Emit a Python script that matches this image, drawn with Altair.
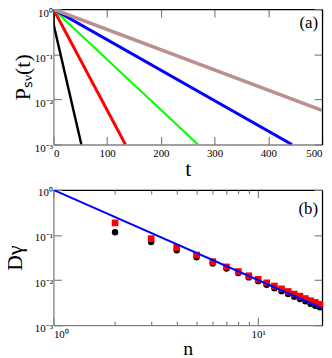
import altair as alt
import pandas as pd

FONT = "Liberation Serif"

# ---------------- panel (a) data ----------------
t_black = [0, 0.5, 52]
p_black = [1.0, 0.45, 0.001]
t_red = [0, 134]
p_red = [1.0, 0.001]
t_green = [0, 269]
p_green = [1.0, 0.001]
t_blue = [0, 444]
p_blue = [1.0, 0.001]
t_brown = [0, 500]
p_brown = [1.0, 0.0057]
t_ticks = [0, 100, 200, 300, 400, 500]
p_ticks = [1, 0.1, 0.01, 0.001]

# ---------------- panel (b) data ----------------
n_vals = [2, 3, 4, 5, 6, 7, 8, 9, 10, 11, 12, 13, 14, 15, 16, 17, 18, 19, 20]
d_black = [0.115, 0.070, 0.046, 0.032, 0.0235, 0.018, 0.0143, 0.0115, 0.0095,
           0.0079, 0.0066, 0.0057, 0.0049, 0.0043, 0.0038, 0.0034, 0.0030, 0.0027, 0.0025]
d_red = [0.186, 0.083, 0.053, 0.036, 0.0257, 0.0196, 0.0155, 0.0125, 0.0104,
         0.0087, 0.0074, 0.0064, 0.0056, 0.0049, 0.0044, 0.0039, 0.0035, 0.0032, 0.0029]
n_line = [1, 20.5]
d_line = [1.0, 0.00238]
n_major = [1, 10]
n_minor = [2, 3, 4, 5, 6, 7, 8, 9]
d_ticks = [1, 0.1, 0.01, 0.001]

W, H = 272, 137
GRAY = "#808080"

sup_expr = ("round(log(datum.value)/LN10) == 0 ? '10⁰' : "
            "round(log(datum.value)/LN10) == 1 ? '10¹' : "
            "round(log(datum.value)/LN10) == -1 ? '10⁻¹' : "
            "round(log(datum.value)/LN10) == -2 ? '10⁻²' : '10⁻³'")


def axis(orient, values, size=8, labels=True, title=None, label_expr=None,
         domain_color=GRAY, domain=True, title_size=22, title_pad=4, label_gap=3,
         label_offset=0):
    kw = dict(orient=orient, values=values, tickSize={"expr": str(-size)},
              tickColor=GRAY, tickWidth=1.2, grid=False, labels=labels,
              domain=domain, domainColor=domain_color, domainWidth=1.3,
              labelFont=FONT, labelFontSize=11, labelColor="black",
              labelPadding=size + label_gap, titleFont=FONT, titleFontSize=title_size,
              titleFontWeight="normal", titleColor="black", titlePadding=title_pad)
    if label_offset:
        kw["labelOffset"] = label_offset
    if label_expr:
        kw["labelExpr"] = label_expr
    if title is None:
        kw["title"] = None
    else:
        kw["title"] = title
    return alt.Axis(**kw)


# ---------------- panel (a) ----------------
xs_a = alt.Scale(domain=[0, 500], nice=False)
ys_a = alt.Scale(type="log", domain=[0.001, 1], nice=False)


def series(t, p, color, width, xaxis=None, yaxis=None):
    df = pd.DataFrame({"t": t, "p": p})
    return alt.Chart(df).mark_line(color=color, strokeWidth=width, clip=True).encode(
        x=alt.X("t:Q", scale=xs_a, axis=xaxis),
        y=alt.Y("p:Q", scale=ys_a, axis=yaxis),
    )


black = series(t_black, p_black, "#000000", 2.5,
               axis("bottom", t_ticks, title="t", title_pad=0),
               axis("left", p_ticks, title="Pₛᵥ(t)", label_expr=sup_expr, title_pad=0,
                    label_gap=1, label_offset=4))
red = series(t_red, p_red, "#ff0000", 3)
green = series(t_green, p_green, "#00ff00", 2)
blue = series(t_blue, p_blue, "#0000ff", 3)
brown = series(t_brown, p_brown, "#bc8f8f", 3.5)
frame_a = alt.Chart(pd.DataFrame({"t": t_brown, "p": p_brown})).mark_line(opacity=0).encode(
    x=alt.X("t:Q", scale=xs_a, axis=axis("top", t_ticks, labels=False, domain_color="black")),
    y=alt.Y("p:Q", scale=ys_a, axis=axis("right", p_ticks, labels=False, domain_color="black")),
)
label_a = alt.Chart(pd.DataFrame({"lab": ["(a)"]})).mark_text(
    align="right", baseline="alphabetic", font=FONT, fontSize=17, color="black"
).encode(x=alt.value(W - 4), y=alt.value(19), text="lab:N")

panel_a = alt.layer(black, red, green, blue, brown, frame_a, label_a).resolve_axis(
    x="independent", y="independent").properties(width=W, height=H)

# ---------------- panel (b) ----------------
xs_b = alt.Scale(type="log", domain=[1, 20.5], nice=False)
ys_b = alt.Scale(type="log", domain=[0.001, 1], nice=False)

df_pts = pd.DataFrame({"n": n_vals, "db": d_black, "dr": d_red})
circles = alt.Chart(df_pts).mark_circle(color="black", opacity=1, size=42).encode(
    x=alt.X("n:Q", scale=xs_b,
            axis=axis("bottom", n_major, title="n", label_expr=sup_expr, title_size=20, title_pad=0)),
    y=alt.Y("db:Q", scale=ys_b,
            axis=axis("left", d_ticks, title="Dγ", label_expr=sup_expr, title_pad=8, label_gap=1,
                      label_offset=3)),
)
squares = alt.Chart(df_pts).mark_square(color="#ff0000", opacity=1, size=46).encode(
    x=alt.X("n:Q", scale=xs_b, axis=None),
    y=alt.Y("dr:Q", scale=ys_b, axis=None),
)
line_b = alt.Chart(pd.DataFrame({"n": n_line, "d": d_line})).mark_line(
    color="#0000ff", strokeWidth=2, clip=True).encode(
    x=alt.X("n:Q", scale=xs_b, axis=None),
    y=alt.Y("d:Q", scale=ys_b, axis=None),
)
df_frame_b = pd.DataFrame({"n": n_line, "d": d_line})
frame_b = alt.Chart(df_frame_b).mark_line(opacity=0).encode(
    x=alt.X("n:Q", scale=xs_b, axis=axis("top", n_major, labels=False, domain_color="black")),
    y=alt.Y("d:Q", scale=ys_b, axis=axis("right", d_ticks, labels=False, domain_color="black")),
)
minor_bottom = alt.Chart(df_frame_b).mark_line(opacity=0).encode(
    x=alt.X("n:Q", scale=xs_b, axis=axis("bottom", n_minor, size=4, labels=False, domain=False)),
    y=alt.Y("d:Q", scale=ys_b, axis=None),
)
minor_top = alt.Chart(df_frame_b).mark_line(opacity=0).encode(
    x=alt.X("n:Q", scale=xs_b, axis=axis("top", n_minor, size=4, labels=False, domain=False)),
    y=alt.Y("d:Q", scale=ys_b, axis=None),
)
label_b = alt.Chart(pd.DataFrame({"lab": ["(b)"]})).mark_text(
    align="right", baseline="alphabetic", font=FONT, fontSize=17, color="black"
).encode(x=alt.value(W - 4), y=alt.value(24), text="lab:N")

panel_b = alt.layer(circles, squares, line_b, frame_b, minor_bottom, minor_top, label_b).resolve_axis(
    x="independent", y="independent").properties(width=W, height=H)

chart = alt.vconcat(panel_a, panel_b, spacing=8).properties(
    padding={"left": -5, "top": -3, "right": 0, "bottom": 0}
).configure_view(stroke=None)

chart.save("out.html", embed_options={"renderer": "svg", "actions": False})
